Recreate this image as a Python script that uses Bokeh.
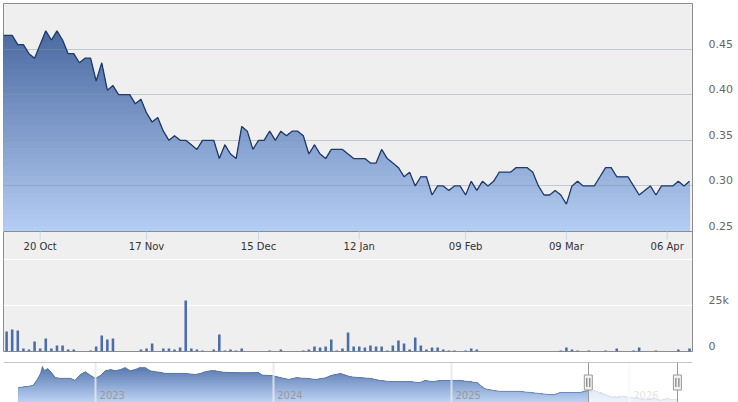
import numpy as np
import pandas as pd
from datetime import datetime
from bokeh.plotting import figure
from bokeh.layouts import column
from bokeh.models import Range1d, FixedTicker, CustomJSTickFormatter, Span
from bokeh.core.properties import value
from bokeh.embed import file_html
from bokeh.resources import INLINE

# ------------------------------------------------------------------ data
first_day = "2025-10-09"
last_day = "2026-04-10"
missing_days = ["2025-11-11", "2025-12-25", "2026-01-01", "2026-01-19",
                "2026-02-16", "2026-03-02", "2026-03-20", "2026-04-03"]

price = [0.465, 0.465, 0.465, 0.455, 0.455, 0.445, 0.44, 0.455, 0.47, 0.46,
         0.47, 0.46, 0.445, 0.445, 0.435, 0.44, 0.44, 0.415, 0.435, 0.405,
         0.41, 0.40, 0.40, 0.40, 0.39, 0.395, 0.38, 0.37, 0.375, 0.36,
         0.35, 0.355, 0.35, 0.35, 0.345, 0.34, 0.35, 0.35, 0.35, 0.33,
         0.345, 0.335, 0.33, 0.365, 0.36, 0.34, 0.35, 0.35, 0.36, 0.35,
         0.36, 0.355, 0.36, 0.36, 0.355, 0.335, 0.345, 0.335, 0.33, 0.34,
         0.34, 0.34, 0.335, 0.33, 0.33, 0.33, 0.325, 0.325, 0.34, 0.33,
         0.325, 0.32, 0.31, 0.315, 0.30, 0.31, 0.31, 0.29, 0.30, 0.30,
         0.295, 0.30, 0.30, 0.29, 0.305, 0.295, 0.305, 0.30, 0.305, 0.315,
         0.315, 0.315, 0.32, 0.32, 0.32, 0.315, 0.30, 0.29, 0.29, 0.295,
         0.29, 0.28, 0.30, 0.305, 0.30, 0.30, 0.30, 0.31, 0.32, 0.32,
         0.31, 0.31, 0.31, 0.30, 0.29, 0.295, 0.30, 0.29, 0.30, 0.30,
         0.30, 0.305, 0.30, 0.305]

volume_k = [0, 10.9, 12.0, 11.4, 1.6, 1.1, 5.4, 1.6, 7.0, 1.6,
            3.3, 3.3, 1.1, 1.1, 0, 0, 0.5, 2.7, 8.7, 6.5,
            7.0, 0, 0, 0, 0, 1.1, 1.6, 4.3, 0, 1.6,
            1.6, 1.1, 2.2, 27.7, 1.6, 1.1, 0.5, 0, 1.1, 9.2,
            0.5, 1.1, 0.5, 1.6, 0, 0, 0, 0, 0.5, 0,
            1.1, 0, 0, 0, 0.5, 1.1, 2.7, 2.2, 2.7, 6.5,
            0.5, 1.6, 10.3, 2.7, 2.7, 2.2, 3.3, 2.7, 2.7, 0.5,
            3.3, 6.0, 4.3, 1.1, 7.6, 3.3, 1.1, 2.2, 2.2, 1.1,
            0.5, 0.5, 0, 0.5, 1.6, 1.1, 0, 0, 0, 0,
            0, 0, 0, 0, 0, 0, 0, 0, 0, 0,
            0.5, 2.2, 1.1, 0.5, 0, 0.5, 0, 0, 0.5, 0,
            1.6, 0, 0, 0.5, 2.2, 0, 0, 0.5, 0, 0,
            0, 1.1, 0, 1.6]

tick_dates = ["2025-10-20", "2025-11-17", "2025-12-15", "2026-01-12",
              "2026-02-09", "2026-03-09", "2026-04-06"]
tick_labels = ["20 Oct", "17 Nov", "15 Dec", "12 Jan", "09 Feb", "09 Mar", "06 Apr"]

price_ticks = [0.25, 0.30, 0.35, 0.40, 0.45]
price_tick_labels = ["0.25", "0.30", "0.35", "0.40", "0.45"]
volume_ticks = [0, 25000]
volume_tick_labels = ["0", "25k"]
volume_grid = [25000, 50000]

nav_dates = ["2022-07-27", "2022-08-14", "2022-08-26", "2022-09-05", "2022-09-10",
             "2022-09-14", "2022-09-18", "2022-09-25", "2022-10-01", "2022-10-11",
             "2022-10-21", "2022-10-31", "2022-11-10", "2022-11-20", "2022-12-01",
             "2022-12-11", "2022-12-22", "2023-01-01", "2023-01-11", "2023-01-21",
             "2023-02-01", "2023-02-11", "2023-02-21", "2023-03-03", "2023-03-13",
             "2023-03-23", "2023-04-02", "2023-04-13", "2023-04-23", "2023-05-04",
             "2023-05-14", "2023-05-24", "2023-06-14", "2023-07-04", "2023-07-25",
             "2023-08-04", "2023-08-14", "2023-08-25", "2023-09-04", "2023-09-14",
             "2023-09-24", "2023-10-25", "2023-11-15", "2023-12-01", "2023-12-09",
             "2023-12-30", "2024-01-17", "2024-02-02", "2024-02-17", "2024-03-08",
             "2024-03-28", "2024-04-18", "2024-04-28", "2024-05-18", "2024-06-07",
             "2024-06-28", "2024-07-18", "2024-08-07", "2024-08-28", "2024-09-17",
             "2024-10-07", "2024-10-28", "2024-11-07", "2024-11-23", "2024-12-11",
             "2025-01-01", "2025-01-17", "2025-02-07", "2025-02-23", "2025-03-10",
             "2025-03-20", "2025-04-10", "2025-04-30", "2025-05-21", "2025-06-11",
             "2025-07-01", "2025-07-22", "2025-08-01", "2025-08-12", "2025-09-01",
             "2025-09-22"]
nav_values = [0.52, 0.54, 0.56, 0.69, 0.78,
              0.91, 0.83, 0.87, 0.81, 0.70,
              0.69, 0.69, 0.69, 0.65, 0.76,
              0.81, 0.74, 0.69, 0.74, 0.83,
              0.85, 0.83, 0.85, 0.89, 0.83,
              0.85, 0.89, 0.89, 0.83, 0.81,
              0.80, 0.78, 0.78, 0.78, 0.76,
              0.78, 0.81, 0.83, 0.83, 0.81,
              0.80, 0.79, 0.79, 0.80, 0.75,
              0.74, 0.70, 0.67, 0.70, 0.69,
              0.67, 0.70, 0.74, 0.78, 0.72,
              0.70, 0.69, 0.65, 0.63, 0.63,
              0.63, 0.61, 0.65, 0.63, 0.65,
              0.65, 0.65, 0.63, 0.61, 0.50,
              0.48, 0.45, 0.45, 0.45, 0.43,
              0.41, 0.39, 0.39, 0.43, 0.43,
              0.43]

year_dates = ["2023-01-01", "2024-01-01", "2025-01-01", "2026-01-01"]
year_labels = ["2023", "2024", "2025", "2026"]

# ------------------------------------------------------------------ helpers
FONT = "DejaVu Sans"


def hex_rgb(h):
    h = h.lstrip("#")
    return tuple(int(h[i:i + 2], 16) for i in (0, 2, 4))


def mix(c1, c2, t):
    a, b = hex_rgb(c1), hex_rgb(c2)
    return "#%02x%02x%02x" % tuple(int(round(a[i] + (b[i] - a[i]) * t)) for i in range(3))


def gradient_area(fig, x, y, base, top, c_top, c_bot, n=36, **kw):
    y = np.asarray(y, dtype=float)
    for k in range(n):
        level = top - (top - base) * k / n
        col = mix(c_top, c_bot, (k + 0.5) / n)
        fig.varea(x=x, y1=base, y2=np.minimum(y, level), fill_color=col, **kw)


# ------------------------------------------------------------------ layout constants
LEFT_W, TOP_H = 3, 3
FRAME_W, RIGHT_W = 689, 46
FRAME_H, PRICE_H, VOL_H = 348, 228, 92
PANE_LO, PANE_HI = 0.25, 0.50
VOL_PANE_MAX = 50000
NAV_GAP, NAV_H = 11, 40

ppu = PRICE_H / (PANE_HI - PANE_LO)
y_lo = PANE_LO - (FRAME_H - PRICE_H) / ppu
vol_hi = VOL_PANE_MAX * FRAME_H / VOL_H

# ------------------------------------------------------------------ dates
dates = [d for d in pd.bdate_range(first_day, last_day)
         if d.strftime("%Y-%m-%d") not in missing_days]
assert len(dates) == len(price) == len(volume_k)
date_str = [d.strftime("%Y-%m-%d") for d in dates]
idx = np.arange(len(price))
tick_idx = [date_str.index(t) for t in tick_dates]
volume = [v * 1000 for v in volume_k]

# ------------------------------------------------------------------ main + volume
p = figure(frame_width=FRAME_W, frame_height=FRAME_H,
           x_range=Range1d(0.447, len(price) - 1 + 0.53),
           y_range=Range1d(y_lo, PANE_HI),
           x_axis_location=None, y_axis_location="right",
           output_backend="svg", toolbar_location=None,
           min_border_left=LEFT_W, min_border_top=TOP_H, min_border_bottom=NAV_GAP,
           min_border_right=RIGHT_W,
           background_fill_color="#efefef", border_fill_color="white",
           outline_line_color="#8c8c8c", outline_line_width=1)
p.extra_y_ranges = {"vol": Range1d(0, vol_hi)}
p.xgrid.visible = False
p.ygrid.visible = False

gradient_area(p, idx, price, PANE_LO, max(price), "#4a6aa1", "#b6cef4")

p.hspan(y=price_ticks[1:], line_color="#8796a8", line_alpha=0.45, line_width=1)
p.hspan(y=price_ticks[:1], line_color="#8c8c8c", line_width=1)
p.hspan(y=volume_grid, line_color="white", line_width=1, y_range_name="vol")

p.vbar(x=idx, top=volume, width=0.46, bottom=0, fill_color="#4b6ea9",
       line_color=None, y_range_name="vol")

p.segment(x0=tick_idx, y0=PANE_LO, x1=tick_idx, y1=PANE_LO - 8 / ppu,
          line_color="#ccd6eb", line_width=1)
p.text(x=tick_idx, y=PANE_LO - 15 / ppu, text=tick_labels,
       text_font=value(FONT), text_font_size="10px", text_color="#333333",
       text_align="center", text_baseline="middle")

p.line(idx, price, line_color="#1f3b6e", line_width=1.3)

lab_off = 5 / ppu


def vol_to_price(v):
    return y_lo + v / vol_hi * (PANE_HI - y_lo)


axis_pos = [t + lab_off for t in price_ticks] + [vol_to_price(v) + lab_off for v in volume_ticks]
axis_lab = price_tick_labels + volume_tick_labels
ax = p.yaxis[0]
ax.ticker = FixedTicker(ticks=axis_pos, minor_ticks=[])
ax.formatter = CustomJSTickFormatter(args=dict(pos=axis_pos, labs=axis_lab), code="""
for (let i = 0; i < pos.length; i++) {
  if (Math.abs(tick - pos[i]) < 1e-9) { return labs[i]; }
}
return "";
""")
ax.axis_line_color = None
ax.major_tick_line_color = None
ax.minor_tick_line_color = None
ax.major_tick_in = 0
ax.major_tick_out = 0
ax.major_label_standoff = 16
ax.major_label_text_font = FONT
ax.major_label_text_font_size = "11px"
ax.major_label_text_color = "#666666"

# ------------------------------------------------------------------ navigator
NAV_LO, NAV_HI = 0.246, 0.98
nav_x0, nav_x1 = datetime(2022, 6, 26), datetime(2026, 5, 11)
nav = figure(frame_width=FRAME_W, frame_height=NAV_H,
             x_range=Range1d(nav_x0, nav_x1), y_range=Range1d(NAV_LO, NAV_HI),
             x_axis_location=None, y_axis_location=None,
             output_backend="svg", toolbar_location=None,
             min_border_left=LEFT_W, min_border_top=0, min_border_bottom=0,
             min_border_right=RIGHT_W,
             background_fill_color="white", border_fill_color="white",
             outline_line_color=None)
nav.grid.visible = False

nav_x = list(pd.to_datetime(nav_dates)) + list(dates)
nav_y = nav_values + price
gradient_area(nav, nav_x, nav_y, NAV_LO, max(nav_y), "#5576ae", "#bed4f5", n=24)
nav.line(nav_x, nav_y, line_color="#4d6ea8", line_width=0.8, line_alpha=0.8)

year_ts = list(pd.to_datetime(year_dates))
nav.vspan(x=year_ts, line_color="#e8e8e8", line_width=2, line_alpha=0.85)
nav.text(x=year_ts, y=NAV_LO + 8 / NAV_H * (NAV_HI - NAV_LO), text=year_labels,
         x_offset=4, text_font=value(FONT), text_font_size="10px",
         text_color="#999999", text_align="left", text_baseline="middle")

sel_start, sel_end = dates[0], dates[-1]
nav.quad(left=[sel_start], right=[sel_end], bottom=[NAV_LO], top=[NAV_HI],
         fill_color="white", fill_alpha=0.72, line_color=None)

nav.add_layout(Span(location=NAV_HI, dimension="width", line_color="#8c8c8c", line_width=1))
nav.vspan(x=[sel_start, sel_end], line_color="#999999", line_width=1)

mid = (NAV_LO + NAV_HI) / 2
nav.rect(x=[sel_start, sel_end], y=[mid, mid], width=8, height=15,
         width_units="screen", height_units="screen",
         fill_color="#f2f2f2", line_color="#999999", line_width=1)
ms_per_px = (nav_x1 - nav_x0).total_seconds() * 1000 / FRAME_W
y_per_px = (NAV_HI - NAV_LO) / NAV_H
hx = []
for d in (sel_start, sel_end):
    t = pd.Timestamp(d).value / 1e6
    hx += [t - 1.5 * ms_per_px, t + 1.5 * ms_per_px]
nav.segment(x0=hx, y0=mid - 4.5 * y_per_px, x1=hx, y1=mid + 4.5 * y_per_px,
            line_color="#666666", line_width=1)

layout = column(p, nav, spacing=0)
open("out.html", "w").write(file_html(layout, INLINE))
